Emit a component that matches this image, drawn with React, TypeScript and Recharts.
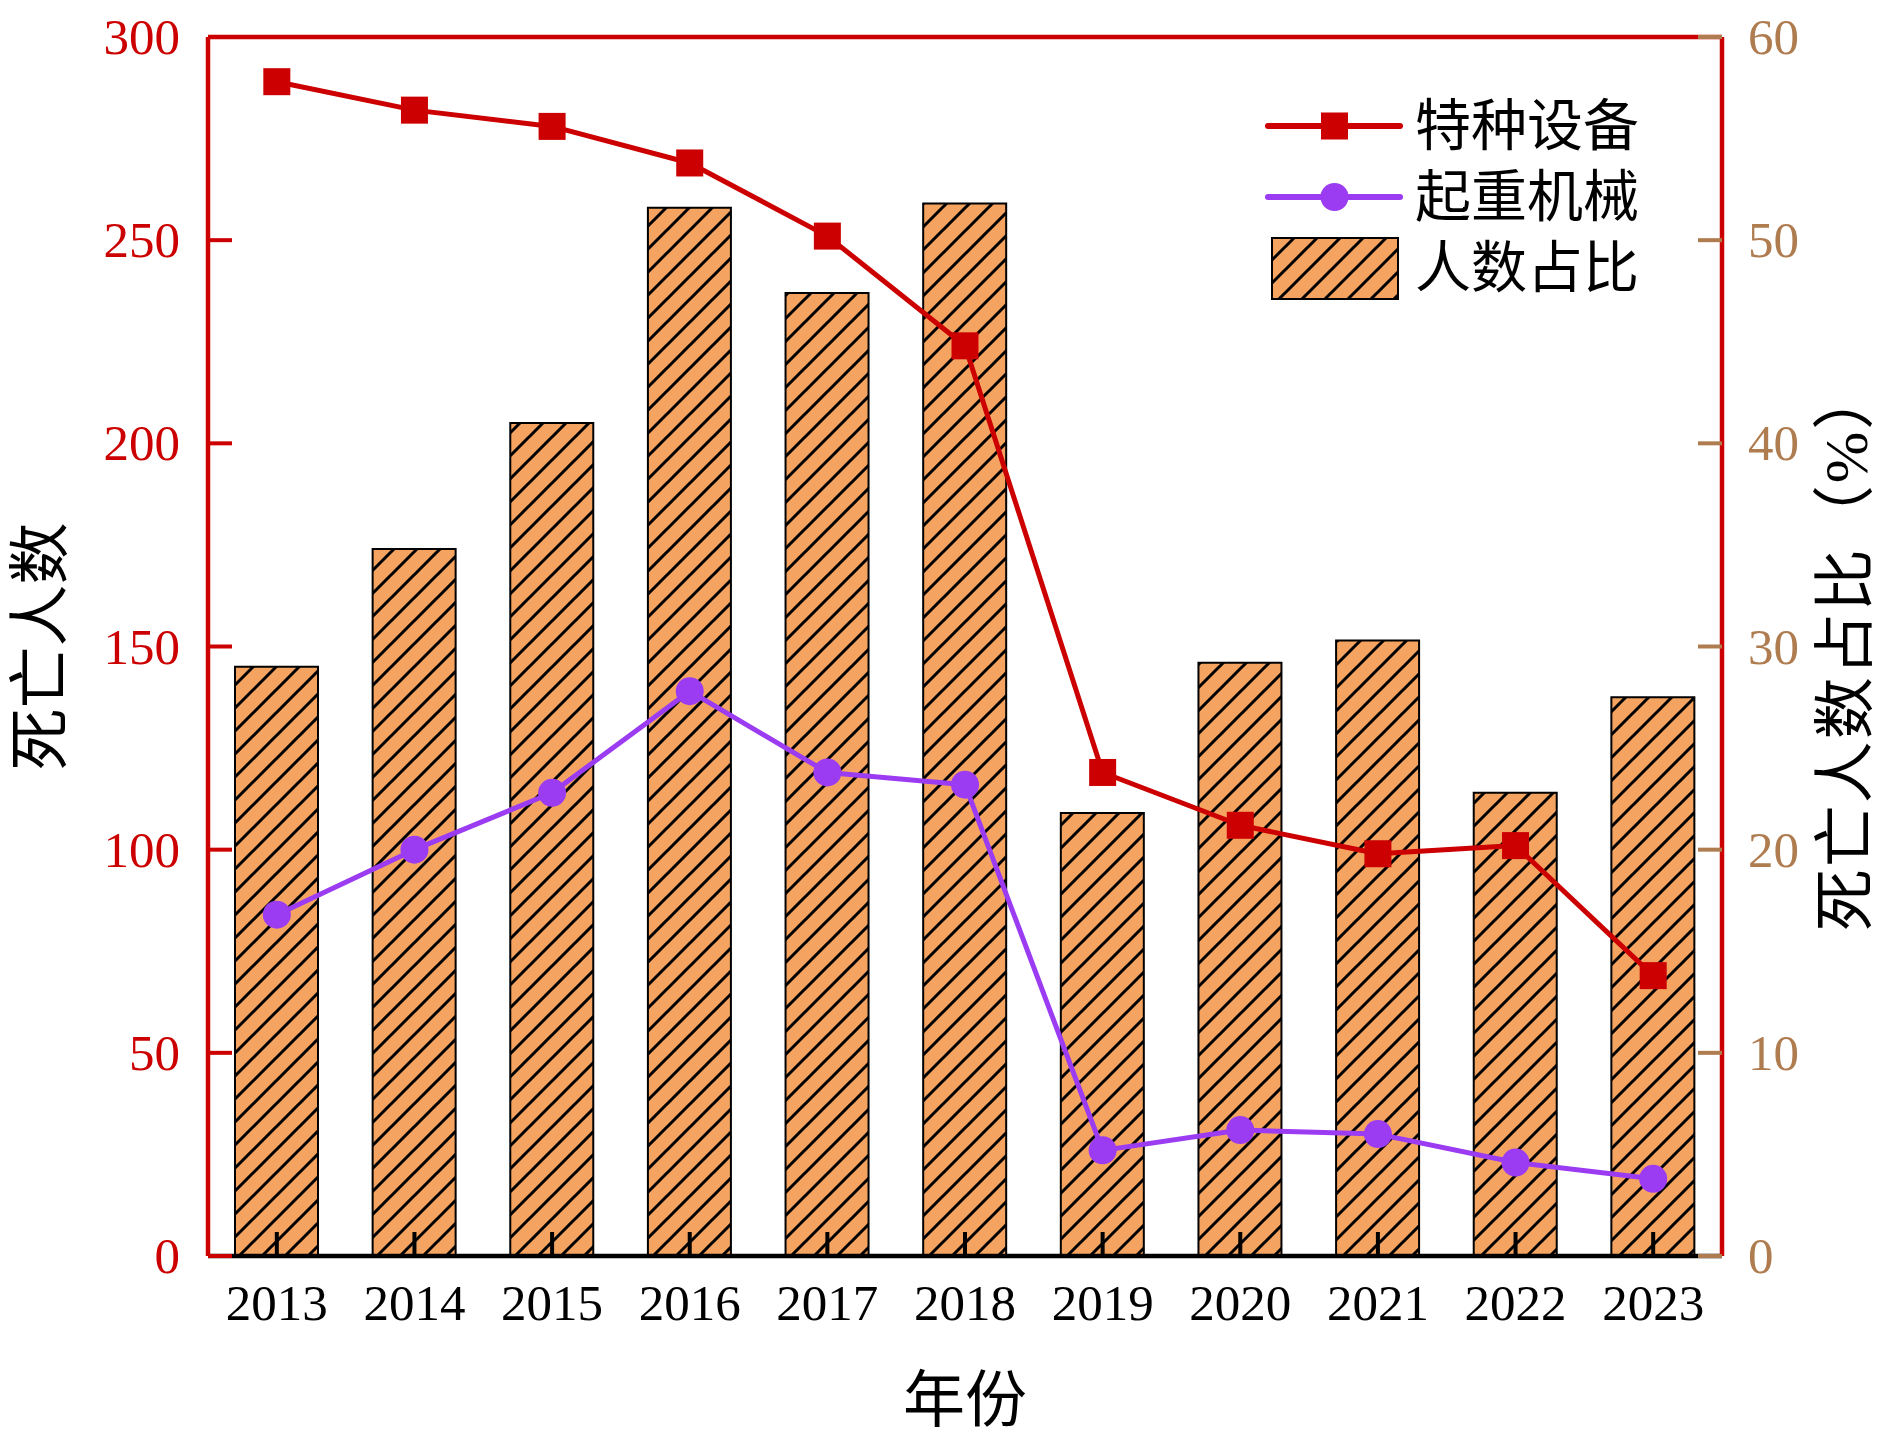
import React from 'react';
import {
  ComposedChart,
  Bar,
  Line,
  XAxis,
  YAxis,
  ReferenceLine,
} from 'recharts';

// ---- data ----
const years = ['2013', '2014', '2015', '2016', '2017', '2018', '2019', '2020', '2021', '2022', '2023'];
const specialEquipment = [289, 282, 278, 269, 251, 224, 119, 106, 99, 101, 69];
const liftingMachinery = [84, 100, 114, 139, 119, 116, 26, 31, 30, 23, 19];
const deathShare = [29.0, 34.8, 41.0, 51.6, 47.4, 51.8, 21.8, 29.2, 30.3, 22.8, 27.5];

const leftTicks = [0, 50, 100, 150, 200, 250, 300];
const rightTicks = [0, 10, 20, 30, 40, 50, 60];

const seriesNames = { special: '特种设备', lifting: '起重机械', share: '人数占比' };
const axisTitles = { x: '年份', left: '死亡人数', right: '死亡人数占比（%）' };

const data = years.map((year, i) => ({
  year,
  special: specialEquipment[i],
  lifting: liftingMachinery[i],
  share: deathShare[i],
}));

// ---- styles ----
const RED = '#CC0000';
const PURPLE = '#9B3CF2';
const BROWN = '#AF7C50';
const ORANGE = '#F4A460';
const FONT = '"Times New Roman", "Liberation Serif", "Noto Sans CJK SC", serif';
const TICK_FONT = 51;
const TITLE_FONT = 62;
const LEGEND_FONT = 56;
const TICK_LEN = 24;
const AXIS_W = 4.5;

const LeftTick = (props: any) => {
  const { x, y, payload } = props;
  return (
    <g>
      <line x1={x} x2={x + TICK_LEN} y1={y} y2={y} stroke={RED} strokeWidth={4} />
      <text x={x - 28} y={y} textAnchor="end" dominantBaseline="central" fill={RED} fontSize={TICK_FONT} fontFamily={FONT}>
        {payload.value}
      </text>
    </g>
  );
};

const RightTick = (props: any) => {
  const { x, y, payload } = props;
  return (
    <g>
      <line x1={x} x2={x - TICK_LEN} y1={y} y2={y} stroke={BROWN} strokeWidth={4} />
      <text x={x + 26} y={y} textAnchor="start" dominantBaseline="central" fill={BROWN} fontSize={TICK_FONT} fontFamily={FONT}>
        {payload.value}
      </text>
    </g>
  );
};

const BottomTick = (props: any) => {
  const { x, y, payload } = props;
  return (
    <g>
      <line x1={x} x2={x} y1={y} y2={y - TICK_LEN} stroke="#000" strokeWidth={4} />
      <text x={x} y={y + 47} textAnchor="middle" dominantBaseline="central" fill="#000" fontSize={TICK_FONT} fontFamily={FONT}>
        {payload.value}
      </text>
    </g>
  );
};

const LeftTitle = (props: any) => {
  const { viewBox } = props;
  const cx = viewBox.x + 41;
  const cy = viewBox.y + viewBox.height / 2;
  return (
    <text x={cx} y={cy} transform={`rotate(-90 ${cx} ${cy})`} textAnchor="middle" dominantBaseline="central" fontSize={TITLE_FONT} fontFamily={FONT} fill="#000">
      {axisTitles.left}
    </text>
  );
};

const RightTitle = (props: any) => {
  const { viewBox } = props;
  const cx = viewBox.x + 124;
  const cy = viewBox.y + viewBox.height / 2 + 2;
  return (
    <text x={cx} y={cy} transform={`rotate(-90 ${cx} ${cy})`} textAnchor="middle" dominantBaseline="central" fontSize={TITLE_FONT} letterSpacing={2} fontFamily={FONT} fill="#000">
      {axisTitles.right}
    </text>
  );
};

const BottomTitle = (props: any) => {
  const { viewBox } = props;
  const cx = viewBox.x + viewBox.width / 2;
  const cy = viewBox.y + 145;
  return (
    <text x={cx} y={cy} textAnchor="middle" dominantBaseline="central" fontSize={TITLE_FONT} fontFamily={FONT} fill="#000">
      {axisTitles.x}
    </text>
  );
};

const SquareDot = (props: any) => {
  const { cx, cy, index } = props;
  if (cx == null || cy == null) return <g key={`sq-${index}`} />;
  return <rect key={`sq-${index}`} x={cx - 13.5} y={cy - 13.5} width={27} height={27} fill={RED} />;
};

const CircleDot = (props: any) => {
  const { cx, cy, index } = props;
  if (cx == null || cy == null) return <g key={`ci-${index}`} />;
  return <circle key={`ci-${index}`} cx={cx} cy={cy} r={14} fill={PURPLE} />;
};

const LegendOverlay = () => (
  <svg width={420} height={230} style={{ position: 'absolute', left: 1262, top: 86, overflow: 'visible', pointerEvents: 'none' }}>
    <defs>
      <pattern id="hatch-legend" patternUnits="userSpaceOnUse" width="23" height="23">
        <rect width="23" height="23" fill={ORANGE} />
        <path d="M-2,2 L2,-2 M0,23 L23,0 M21,25 L25,21" stroke="#000" strokeWidth={3} />
      </pattern>
    </defs>
    <line x1={6} x2={138} y1={40} y2={40} stroke={RED} strokeWidth={6} strokeLinecap="round" />
    <rect x={59} y={26.5} width={27} height={27} fill={RED} />
    <text x={153} y={40} dominantBaseline="central" fontSize={LEGEND_FONT} fontFamily={FONT} fill="#000">
      {seriesNames.special}
    </text>
    <line x1={6} x2={138} y1={111} y2={111} stroke={PURPLE} strokeWidth={6} strokeLinecap="round" />
    <circle cx={72.5} cy={111} r={14} fill={PURPLE} />
    <text x={153} y={111} dominantBaseline="central" fontSize={LEGEND_FONT} fontFamily={FONT} fill="#000">
      {seriesNames.lifting}
    </text>
    <rect x={10} y={152} width={126} height={61} fill="url(#hatch-legend)" stroke="#000" strokeWidth={2} />
    <text x={153} y={182} dominantBaseline="central" fontSize={LEGEND_FONT} fontFamily={FONT} fill="#000">
      {seriesNames.share}
    </text>
  </svg>
);

export default function App() {
  return (
    <div style={{ position: 'absolute', left: 0, top: 0, width: 1889, height: 1443, background: '#fff' }}>
      <ComposedChart
        width={1889}
        height={1443}
        data={data}
        margin={{ top: 37, right: 0, bottom: 0, left: 0 }}
      >
        <defs>
          <pattern id="hatch" patternUnits="userSpaceOnUse" width="23" height="23">
            <rect width="23" height="23" fill={ORANGE} />
            <path d="M-2,2 L2,-2 M0,23 L23,0 M21,25 L25,21" stroke="#000" strokeWidth={3} />
          </pattern>
        </defs>
        <XAxis
          dataKey="year"
          type="category"
          height={187}
          axisLine={{ stroke: '#000', strokeWidth: AXIS_W }}
          tickLine={false}
          tickSize={0}
          tickMargin={0}
          tick={<BottomTick />}
          interval={0}
          label={<BottomTitle />}
        />
        <YAxis
          yAxisId="left"
          orientation="left"
          width={208}
          domain={[0, 300]}
          ticks={leftTicks}
          allowDataOverflow
          axisLine={{ stroke: RED, strokeWidth: AXIS_W }}
          tickLine={false}
          tickSize={0}
          tickMargin={0}
          tick={<LeftTick />}
          interval={0}
          label={<LeftTitle />}
        />
        <YAxis
          yAxisId="right"
          orientation="right"
          width={167}
          domain={[0, 60]}
          ticks={rightTicks}
          allowDataOverflow
          axisLine={{ stroke: RED, strokeWidth: AXIS_W }}
          tickLine={false}
          tickSize={0}
          tickMargin={0}
          tick={<RightTick />}
          interval={0}
          label={<RightTitle />}
        />
        <ReferenceLine yAxisId="left" y={300} stroke={RED} strokeWidth={AXIS_W} />
        <Bar
          yAxisId="right"
          dataKey="share"
          name={seriesNames.share}
          fill="url(#hatch)"
          stroke="#000"
          strokeWidth={2}
          barSize={83}
          isAnimationActive={false}
        />
        <Line
          yAxisId="left"
          dataKey="special"
          name={seriesNames.special}
          stroke={RED}
          strokeWidth={5}
          strokeLinejoin="round"
          dot={SquareDot}
          activeDot={false}
          isAnimationActive={false}
        />
        <Line
          yAxisId="left"
          dataKey="lifting"
          name={seriesNames.lifting}
          stroke={PURPLE}
          strokeWidth={5}
          strokeLinejoin="round"
          dot={CircleDot}
          activeDot={false}
          isAnimationActive={false}
        />
      </ComposedChart>
      <LegendOverlay />
    </div>
  );
}
